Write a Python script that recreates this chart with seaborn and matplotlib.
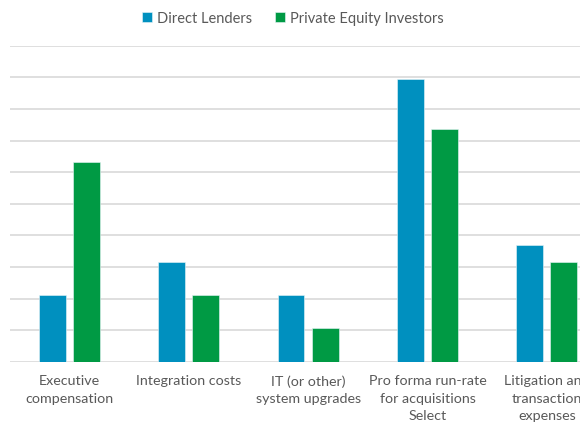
import pandas as pd
import numpy as np
import matplotlib
matplotlib.use('Agg')
import matplotlib.pyplot as plt
import seaborn as sns

# ============================================================
# DATA (share of respondents, %)
# ============================================================
categories = [
    'Executive\ncompensation',
    'Integration costs',
    'IT (or other)\nsystem upgrades',
    'Pro forma run-rate\nfor acquisitions\nSelect',
    'Litigation and\ntransaction\nexpenses',
]
series_names = ['Direct Lenders', 'Private Equity Investors']
direct_lenders = [10.5, 15.8, 10.5, 44.7, 18.4]
pe_investors = [31.6, 10.5, 5.3, 36.8, 15.8]
y_ticks = [0, 5, 10, 15, 20, 25, 30, 35, 40, 45, 50]

colors = ['#0090BF', '#009A44']
grid_color = '#DCDCDC'
text_color = '#595959'

df = pd.DataFrame({
    'category': categories * 2,
    'series': [series_names[0]] * len(categories) + [series_names[1]] * len(categories),
    'value': direct_lenders + pe_investors,
})

# ============================================================
# PLOT
# ============================================================
sns.set_theme(style='white')
plt.rcParams['font.family'] = ['Lato', 'DejaVu Sans']

fig = plt.figure(figsize=(5.8, 4.35), dpi=100)
ax = fig.add_axes([9.5 / 580, 1 - 362.7 / 435, 1 - 9.5 / 580, (362.7 - 46.7) / 435])
ax.set_axisbelow(True)

sns.barplot(data=df, x='category', y='value', hue='series', palette=colors,
            order=categories, hue_order=series_names,
            width=0.57, gap=0.21, edgecolor='#E8F4F8', linewidth=0.4,
            saturation=1, ax=ax)

ax.set_ylim(0, 50)
ax.set_yticks(y_ticks)
ax.yaxis.grid(True, color=grid_color, linewidth=1.3)
ax.set_xlim(-0.5, 4.277)
ax.set_xlabel('')
ax.set_ylabel('')
ax.tick_params(axis='y', left=False, labelleft=False)
ax.tick_params(axis='x', length=0, pad=9, labelsize=10.3, labelcolor=text_color)
for lbl in ax.get_xticklabels():
    lbl.set_linespacing(1.55)
    lbl.set_multialignment('center')
for side in ['top', 'right', 'left', 'bottom']:
    ax.spines[side].set_visible(False)

handles, labels = ax.get_legend_handles_labels()
ax.legend_.remove()
fig.legend(handles, labels, loc='center', bbox_to_anchor=(0.505, 0.956),
           ncol=2, frameon=False, fontsize=10.5, labelcolor=text_color,
           handlelength=0.7, handleheight=0.7, handletextpad=0.3,
           columnspacing=1.6)

plt.savefig('out.png', dpi=100)
